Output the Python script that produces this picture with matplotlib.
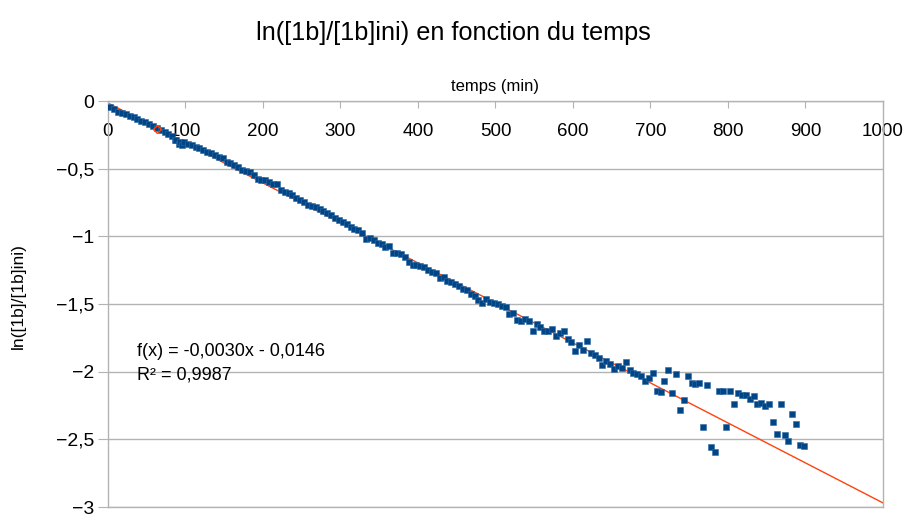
import matplotlib
matplotlib.use("Agg")
import matplotlib.pyplot as plt

# temps (min)
temps = [
    3, 8, 13, 18, 23, 28, 33, 38, 43, 48, 53, 58, 63, 68, 73, 78, 83, 86, 88, 91,
    93, 96, 98, 103, 108, 113, 118, 123, 128, 133, 138, 143, 148,
    153, 158, 163, 168, 173, 178, 183, 188, 193, 198, 203, 208, 213, 218, 223,
    228, 233, 238, 243, 248, 253, 258, 263, 268, 273, 278, 283, 288, 293, 298, 303,
    308, 313, 318, 323, 328, 333, 338, 343, 348, 353, 358, 363, 368, 373, 378,
    383, 388, 393, 398, 403, 408, 413, 418, 423, 428, 433, 438, 443,
    448, 453, 458, 463, 468, 473, 478, 483, 488, 493, 498, 503, 508, 513, 518,
    523, 528, 533, 538, 543, 548, 553, 558, 563, 568, 573, 578, 583, 588, 593,
    598, 603,
    608, 613, 618, 623, 628, 633, 638, 643, 648, 653, 658, 663, 668, 673, 678,
    683, 688, 693, 698, 703, 708, 713, 718, 723, 728, 733, 738, 743, 748, 753,
    758, 763, 768, 773, 778, 783, 788, 793, 798, 803, 808, 813, 818, 823, 828,
    833, 838, 843, 848, 853, 858, 863, 868, 873, 878, 883, 888, 893, 898,
]

# ln([1b]/[1b]ini)
ln_ratio = [
    -0.047, -0.062, -0.078, -0.090, -0.098, -0.109, -0.119, -0.132, -0.145, -0.157,
    -0.169, -0.182, -0.196, -0.212, -0.227, -0.240, -0.262, -0.290, -0.285, -0.315,
    -0.300, -0.322, -0.306, -0.316, -0.326, -0.338, -0.348, -0.361, -0.373, -0.385,
    -0.400, -0.410, -0.418,
    -0.448, -0.460, -0.470, -0.488, -0.508, -0.520, -0.525, -0.547, -0.575, -0.580,
    -0.584, -0.601, -0.612, -0.616, -0.658, -0.675, -0.678, -0.695, -0.719, -0.730,
    -0.747, -0.769, -0.773, -0.784, -0.798, -0.815, -0.828, -0.840, -0.862, -0.880,
    -0.895,
    -0.909, -0.930, -0.942, -0.955, -0.972, -1.020, -1.015, -1.028, -1.050, -1.058,
    -1.080, -1.072, -1.120, -1.126, -1.132, -1.150, -1.188, -1.210, -1.212, -1.218,
    -1.224, -1.246, -1.266, -1.274, -1.304, -1.298, -1.328, -1.335,
    -1.350, -1.370, -1.388, -1.400, -1.427, -1.444, -1.468, -1.493, -1.466, -1.486,
    -1.495, -1.500, -1.515, -1.525, -1.574, -1.565, -1.619, -1.626, -1.613, -1.624,
    -1.698, -1.650, -1.673, -1.698, -1.700, -1.685, -1.737, -1.712, -1.700, -1.759,
    -1.779, -1.845,
    -1.80, -1.84, -1.77, -1.86, -1.88, -1.90, -1.95, -1.92, -1.94, -1.98,
    -1.96, -1.97, -1.93, -1.99, -2.01, -2.02, -2.03, -2.07, -2.05, -2.01,
    -2.14, -2.15, -2.07, -1.99, -2.16, -2.02, -2.28, -2.21, -2.03, -2.08,
    -2.09, -2.08, -2.41, -2.10, -2.56, -2.59, -2.14, -2.14, -2.41, -2.14,
    -2.24, -2.16, -2.17, -2.17, -2.20, -2.18, -2.24, -2.23, -2.25, -2.24,
    -2.37, -2.46, -2.24, -2.47, -2.51, -2.31, -2.39, -2.54, -2.55,
]

# courbe de tendance lineaire
pente = -0.002955
ordonnee = -0.0146
x_tendance = [0, 1000]

# petit point orange
x_orange = [63]
y_orange = [-0.205]

x_ticks = [0, 100, 200, 300, 400, 500, 600, 700, 800, 900, 1000]
y_ticks = [0, -0.5, -1, -1.5, -2, -2.5, -3]
y_tick_labels = ["0", "\u22120,5", "\u22121", "\u22121,5", "\u22122", "\u22122,5", "\u22123"]


def main():
    plt.rcParams["font.family"] = ["Liberation Sans", "DejaVu Sans"]

    fig = plt.figure(figsize=(9.06, 5.16), dpi=100)
    ax = fig.add_axes([0.1192, 0.0174, 0.8554, 0.7868])

    gris = "#b3b3b3"

    y_tendance = [pente * x + ordonnee for x in x_tendance]
    ax.plot(x_tendance, y_tendance, color="#ff420e", linewidth=1.0, zorder=2)

    ax.plot(temps, ln_ratio, linestyle="none", marker="s", markersize=3.8,
            color="#004586", markeredgewidth=0.4, markeredgecolor="#2f6aa5", zorder=3)

    ax.plot(x_orange, y_orange, linestyle="none", marker="D", markersize=4,
            markerfacecolor="none", markeredgecolor="#ff420e", markeredgewidth=1, zorder=4)

    ax.set_xlim(0, 1000)
    ax.set_ylim(-3, 0)

    ax.set_xticks(x_ticks)
    ax.set_yticks(y_ticks)
    ax.set_yticklabels(y_tick_labels)

    ax.grid(True, axis="y", color=gris, linewidth=1)
    ax.set_axisbelow(True)

    for s in ax.spines.values():
        s.set_color(gris)
        s.set_linewidth(1)

    ax.tick_params(axis="x", top=True, bottom=False, labeltop=True, labelbottom=False,
                   direction="in", length=5, color=gris, labelsize=13.5, pad=-28)
    ax.tick_params(axis="y", direction="out", length=7, color=gris, labelsize=14, pad=3)

    ax.xaxis.set_label_position("top")
    ax.set_xlabel("temps (min)", fontsize=12, labelpad=7)
    ax.set_ylabel("ln([1b]/[1b]ini)", fontsize=12.5)
    ax.yaxis.set_label_coords(-0.106, 0.52)

    ax.text(0.037, 0.382, "f(x) = -0,0030x - 0,0146", transform=ax.transAxes,
            fontsize=13, va="center", ha="left")
    ax.text(0.037, 0.325, "R² = 0,9987", transform=ax.transAxes,
            fontsize=13, va="center", ha="left")

    fig.suptitle("ln([1b]/[1b]ini) en fonction du temps", fontsize=18.2, y=0.936, va="center")

    fig.savefig("out.png", dpi=100)


if __name__ == "__main__":
    main()
